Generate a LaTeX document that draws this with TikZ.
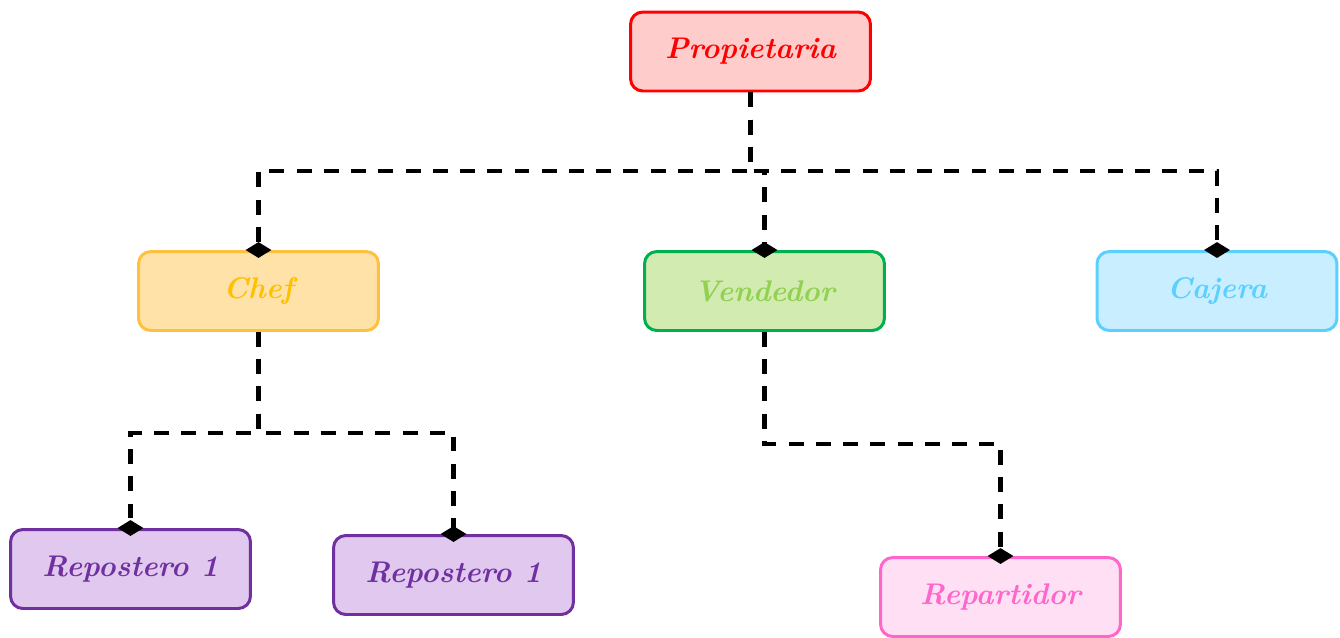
\documentclass[tikz,border=0pt]{standalone}
\usepackage{tikz}
\usetikzlibrary{arrows.meta,positioning}
\definecolor{propline}{HTML}{FF0000}
\definecolor{propfill}{HTML}{FFCCCC}
\definecolor{chefline}{HTML}{FFC040}
\definecolor{cheffill}{HTML}{FFE2A8}
\definecolor{cheftext}{HTML}{FFC000}
\definecolor{vendline}{HTML}{00B050}
\definecolor{vendfill}{HTML}{D1EBB1}
\definecolor{vendtext}{HTML}{92D050}
\definecolor{cajline}{HTML}{5BD0FF}
\definecolor{cajfill}{HTML}{C8EEFF}
\definecolor{repline}{HTML}{7030A0}
\definecolor{repfill}{HTML}{E0C8EE}
\definecolor{partline}{HTML}{FF66CC}
\definecolor{partfill}{HTML}{FFDFF4}
\tikzset{%
	rolebox/.style={rectangle, rounded corners=7pt, line width=1.7pt, minimum width=4.8cm, minimum height=1.58cm, font=\fontsize{17}{20}\selectfont\bfseries\itshape},
	propnode/.style={rolebox, draw=propline, fill=propfill, text=propline},
	chefnode/.style={rolebox, draw=chefline, fill=cheffill, text=cheftext},
	vendnode/.style={rolebox, draw=vendline, fill=vendfill, text=vendtext},
	cajnode/.style={rolebox, draw=cajline, fill=cajfill, text=cajline},
	repnode/.style={rolebox, draw=repline, fill=repfill, text=repline},
	partnode/.style={rolebox, draw=partline, fill=partfill, text=partline},
	tolink/.style={draw=black, line width=2.3pt, dash pattern=on 8.5pt off 7pt, -{Diamond[length=9pt,width=14.7pt]}, shorten >=-4.5pt}}
\begin{document}
\begin{tikzpicture}[x=0.02cm, y=-0.02cm]
	\useasboundingbox (0,0) rectangle (1340,637);
		\node[propnode] (PROP) at (750.5,51.5) {Propietaria};
		\node[chefnode] (CHEF) at (258.5,291) {Chef};
		\node[vendnode] (VEND) at (764.5,291) {Vendedor};
		\node[cajnode]  (CAJ)  at (1217,291) {Cajera};
		\node[repnode]  (REP1) at (130.5,569) {Repostero 1};
		\node[repnode]  (REP2) at (453.5,575) {Repostero 1};
		\node[partnode] (PART) at (1000.5,597) {Repartidor};
		
		\coordinate (busP) at (750.5,171);
		\coordinate (busC) at (258.5,433);
		\coordinate (busV) at (764.5,444);
		
		\path[tolink] (PROP.south) -- (busP) -| (CHEF.north);
		\path[tolink] (PROP.south) -- (busP) -| (VEND.north);
		\path[tolink] (PROP.south) -- (busP) -| (CAJ.north);
		
		\path[tolink] (CHEF.south) -- (busC) -| (REP1.north);
		\path[tolink] (CHEF.south) -- (busC) -| (REP2.north);
		
		\path[tolink] (VEND.south) -- (busV) -| (PART.north);
\end{tikzpicture}
\end{document}
